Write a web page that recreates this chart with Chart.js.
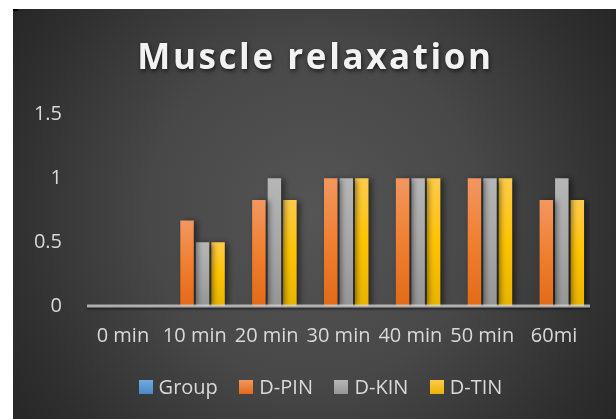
<!DOCTYPE html>
<html>
<head>
<meta charset="utf-8">
<script src="https://cdn.jsdelivr.net/npm/chart.js@4"></script>
<style>
  html, body { margin: 0; padding: 0; background: #ffffff; overflow: hidden; }
  #wrap { position: absolute; left: 13px; top: 9px; width: 603px; height: 410px; }
</style>
</head>
<body>
<div id="wrap"><canvas id="c" width="603" height="410"></canvas></div>
<script>
// Chart data
const chartTitle = 'Muscle relaxation';
const categories = ['0 min', '10 min', '20 min', '30 min', '40 min', '50 min', '60mi'];
const seriesNames = ['Group', 'D-PIN', 'D-KIN', 'D-TIN'];
const groupValues = [null, null, null, null, null, null, null];
const dPinValues = [0, 0.67, 0.83, 1, 1, 1, 0.83];
const dKinValues = [0, 0.5, 1, 1, 1, 1, 1];
const dTinValues = [0, 0.5, 0.83, 1, 1, 1, 0.83];
const yTicks = [0, 0.5, 1, 1.5];

// Styling
const FONT = '"Open Sans", "Noto Sans", sans-serif';
const TEXT = '#d9d9d9';
const fills = [
  ['#70aadf', '#5b9bd5', '#4a89c8'],
  ['#f29760', '#f07f30', '#e26a18'],
  ['#b6b6b6', '#a8a8a8', '#969696'],
  ['#ffcb4c', '#ffc400', '#e8b400']
];

function barFill(i) {
  return (ctx) => {
    const chart = ctx.chart;
    const ys = chart.scales && chart.scales.y;
    if (ctx.type !== 'data' || !ys || !chart.chartArea || ctx.raw == null) return fills[i][1];
    const top = ys.getPixelForValue(ctx.raw);
    const base = ys.getPixelForValue(0);
    if (!isFinite(top) || !isFinite(base) || Math.abs(base - top) < 1) return fills[i][1];
    const g = chart.ctx.createLinearGradient(0, top, 0, base);
    g.addColorStop(0, fills[i][0]);
    g.addColorStop(0.5, fills[i][1]);
    g.addColorStop(1, fills[i][2]);
    return g;
  };
}

const seriesValues = [groupValues, dPinValues, dKinValues, dTinValues];
const datasets = seriesNames.map((name, i) => ({
  label: name,
  data: seriesValues[i],
  backgroundColor: barFill(i),
  borderWidth: 0,
  barPercentage: 0.87,
  categoryPercentage: 0.863
}));

// Dark radial backdrop
const backdrop = {
  id: 'backdrop',
  beforeDraw(chart) {
    const { ctx, width, height } = chart;
    ctx.save();
    const g = ctx.createRadialGradient(width / 2, height / 2, 0, width / 2, height / 2, 370);
    g.addColorStop(0, '#555555');
    g.addColorStop(0.45, '#484848');
    g.addColorStop(0.85, '#2e2e2e');
    g.addColorStop(1, '#262626');
    ctx.fillStyle = g;
    ctx.fillRect(0, 0, width, height);
    ctx.fillStyle = '#000000';
    ctx.fillRect(0, 0, 5, 2);
    ctx.restore();
  }
};

// Heading with a soft drop shadow
const heading = {
  id: 'heading',
  afterDraw(chart) {
    const { ctx, width } = chart;
    ctx.save();
    ctx.font = 'bold 35px ' + FONT;
    if ('letterSpacing' in ctx) ctx.letterSpacing = '2.6px';
    ctx.textAlign = 'center';
    ctx.textBaseline = 'alphabetic';
    ctx.shadowColor = 'rgba(0,0,0,0.65)';
    ctx.shadowBlur = 4;
    ctx.shadowOffsetX = 1;
    ctx.shadowOffsetY = 2;
    ctx.fillStyle = '#f2f2f2';
    ctx.fillText(chartTitle, width / 2 + 1, 60);
    ctx.restore();
  }
};

// Legend row: square swatch, then the series name
const keyRow = {
  id: 'keyRow',
  afterDraw(chart) {
    const { ctx } = chart;
    const box = 14, gapText = 6, gapItem = 21.5, cx = 307.5, cy = 378;
    ctx.save();
    ctx.font = '20px ' + FONT;
    ctx.textBaseline = 'middle';
    ctx.textAlign = 'left';
    const widths = seriesNames.map(n => ctx.measureText(n).width);
    const total = widths.reduce((a, w) => a + box + gapText + w, 0) + gapItem * (seriesNames.length - 1);
    let x = cx - total / 2;
    seriesNames.forEach((name, i) => {
      const g = ctx.createLinearGradient(0, cy - box / 2, 0, cy + box / 2);
      g.addColorStop(0, fills[i][0]);
      g.addColorStop(1, fills[i][2]);
      ctx.fillStyle = g;
      ctx.fillRect(Math.round(x), Math.round(cy - box / 2), box, box);
      ctx.fillStyle = TEXT;
      ctx.fillText(name, x + box + gapText, cy + 1);
      x += box + gapText + widths[i] + gapItem;
    });
    ctx.restore();
  }
};

// Bar shadows and the baseline drawn over the bar feet
const barShadow = {
  id: 'barShadow',
  beforeDatasetsDraw(chart) {
    const ctx = chart.ctx;
    ctx.save();
    ctx.shadowColor = 'rgba(0,0,0,0.55)';
    ctx.shadowBlur = 6;
    ctx.shadowOffsetX = 3;
    ctx.shadowOffsetY = 1;
  },
  afterDatasetsDraw(chart) {
    const ctx = chart.ctx;
    ctx.restore();
    const area = chart.chartArea;
    const y0 = chart.scales.y.getPixelForValue(0);
    ctx.save();
    ctx.shadowColor = 'rgba(0,0,0,0.6)';
    ctx.shadowBlur = 2;
    ctx.shadowOffsetY = 2;
    ctx.strokeStyle = 'rgba(220,220,220,0.72)';
    ctx.lineWidth = 3;
    ctx.beginPath();
    ctx.moveTo(area.left, y0);
    ctx.lineTo(area.right, y0);
    ctx.stroke();
    ctx.restore();
  }
};

new Chart(document.getElementById('c'), {
  type: 'bar',
  data: { labels: categories, datasets },
  plugins: [backdrop, barShadow, heading, keyRow],
  options: {
    responsive: false,
    animation: false,
    events: [],
    layout: { padding: { left: 0, right: 26, top: 105.5, bottom: 59 } },
    scales: {
      x: {
        grid: { display: false, drawTicks: false },
        border: { display: false },
        ticks: { color: TEXT, font: { family: FONT, size: 20 }, padding: 18, maxRotation: 0, autoSkip: false },
        afterFit: (s) => { s.height = 54; }
      },
      y: {
        min: 0,
        max: 1.5,
        afterBuildTicks: (s) => { s.ticks = yTicks.map(v => ({ value: v })); },
        grid: { display: false, drawTicks: false },
        border: { display: false },
        ticks: { color: TEXT, font: { family: FONT, size: 20 }, padding: 25, callback: (v) => String(v) },
        afterFit: (s) => { s.width = 74; }
      }
    },
    plugins: {
      title: { display: false },
      tooltip: { enabled: false },
      legend: { display: false }
    }
  }
});
</script>
</body>
</html>
